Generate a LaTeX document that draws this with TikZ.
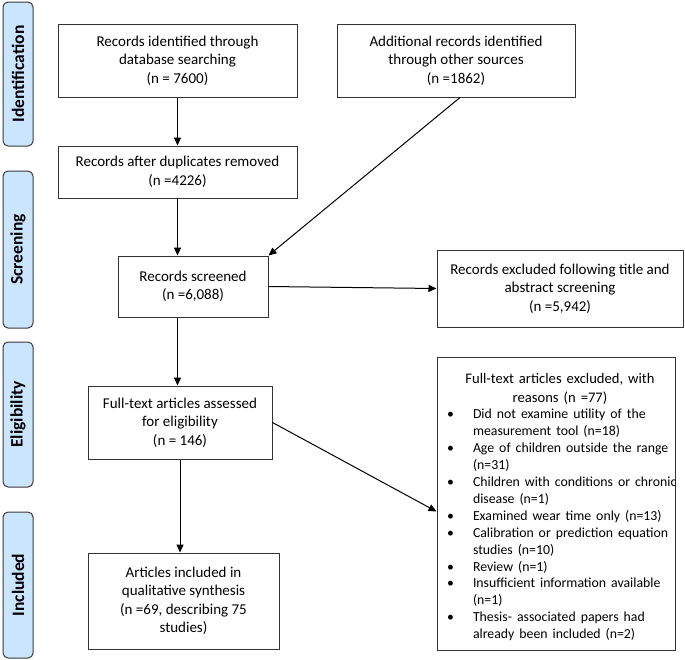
\documentclass[tikz,border=0pt]{standalone}
\usepackage{fontspec}
\setmainfont{Carlito}
\usepackage{enumitem}
\usetikzlibrary{arrows.meta,calc}
\definecolor{sidefill}{HTML}{CCE5FF}
\definecolor{sideline}{HTML}{3A3A3A}
\definecolor{boxline}{HTML}{333333}
\begin{document}
\begin{tikzpicture}[x=1pt,y=-1pt,
  box/.style={draw=boxline,line width=1pt,fill=white,align=center,inner sep=3pt,
    font=\fontsize{15}{18.5}\selectfont},
  side/.style={draw=sideline,fill=sidefill,line width=1pt,rounded corners=5pt,
    minimum width=30pt,inner sep=0pt},
  sidelabel/.style={rotate=90,font=\fontsize{17.5}{19}\selectfont\bfseries},
  arr/.style={line width=1pt,-{Triangle[length=8pt,width=7pt]}}]
\useasboundingbox (0,0) rectangle (685,659);
% side bars
\node[side,minimum height=144pt] (sI) at (18,74) {};
\node[sidelabel] (sIt) at (sI) {Identification};
\node[side,minimum height=157pt] (sS) at (18,249.5) {};
\node[sidelabel] (sSt) at (sS) {Screening};
\node[side,minimum height=145pt] (sE) at (18,414.5) {};
\node[sidelabel] (sEt) at (sE) {Eligibility};
\node[side,minimum height=146pt] (sN) at (18,585) {};
\node[sidelabel] (sNt) at (sN) {Included};
% boxes
\node[box,minimum width=239pt,minimum height=73pt] (b1) at (177.5,60.5)
  {Records identified through\\database searching\\(n = 7600)};
\node[box,minimum width=238pt,minimum height=73pt] (b2) at (456,60.5)
  {Additional records identified\\through other sources\\(n =1862)};
\node[box,minimum width=239pt,minimum height=52pt] (b3) at (177.5,172)
  {Records after duplicates removed\\(n =4226)};
\node[box,minimum width=150pt,minimum height=61pt] (b4) at (193,286.5)
  {Records screened\\(n =6,088)};
\node[box,minimum width=246pt,minimum height=77pt] (b5) at (560,288.5)
  {Records excluded following title and\\abstract screening\\(n =5,942)};
\node[box,minimum width=184pt,minimum height=73pt] (b6) at (180,422.5)
  {Full-text articles assessed\\for eligibility\\(n = 146)};
\node[box,minimum width=191pt,minimum height=96pt] (b7) at (183.5,601)
  {Articles included in\\qualitative synthesis\\(n =69, describing 75\\studies)};
\node[box,minimum width=238pt,minimum height=293pt,text width=234pt,align=left,inner xsep=2pt] (b8) at (556,503.5)
  {\fontsize{14.6}{19}\selectfont{\centering\hspace*{8pt}\rule{0pt}{17pt}Full-text articles excluded, with\\\hspace*{8pt}reasons (n =77)\par}
   \fontsize{13.8}{16.9}\selectfont
   \begin{itemize}[leftmargin=34pt,rightmargin=-20pt,labelsep=19pt,itemsep=0pt,parsep=0pt,topsep=0pt,partopsep=0pt,label=\textbullet]
   \item Did not examine utility of the\newline measurement tool (n=18)
   \item Age of children outside the range\newline (n=31)
   \item Children with conditions or chronic\newline disease (n=1)
   \item Examined wear time only (n=13)
   \item Calibration or prediction equation\newline studies (n=10)
   \item Review (n=1)
   \item Insufficient information available\newline (n=1)
   \item Thesis- associated papers had\newline already been included (n=2)
   \end{itemize}};
% arrows
\draw[arr] (b1.south) -- (b3.north);
\draw[arr] (b3.south) -- (b3.south |- b4.north);
\draw[arr] ([xshift=4pt]b2.south) -- (b4.north east);
\draw[arr] (b4.east) -- (b5.west);
\draw[arr] (b4.south -| b3.south) -- (b6.north -| b3.south);
\draw[arr] (b6.south) -- (b6.south |- b7.north);
\draw[arr] (b6.east) -- ([yshift=-8pt]b8.west);
\end{tikzpicture}
\end{document}
